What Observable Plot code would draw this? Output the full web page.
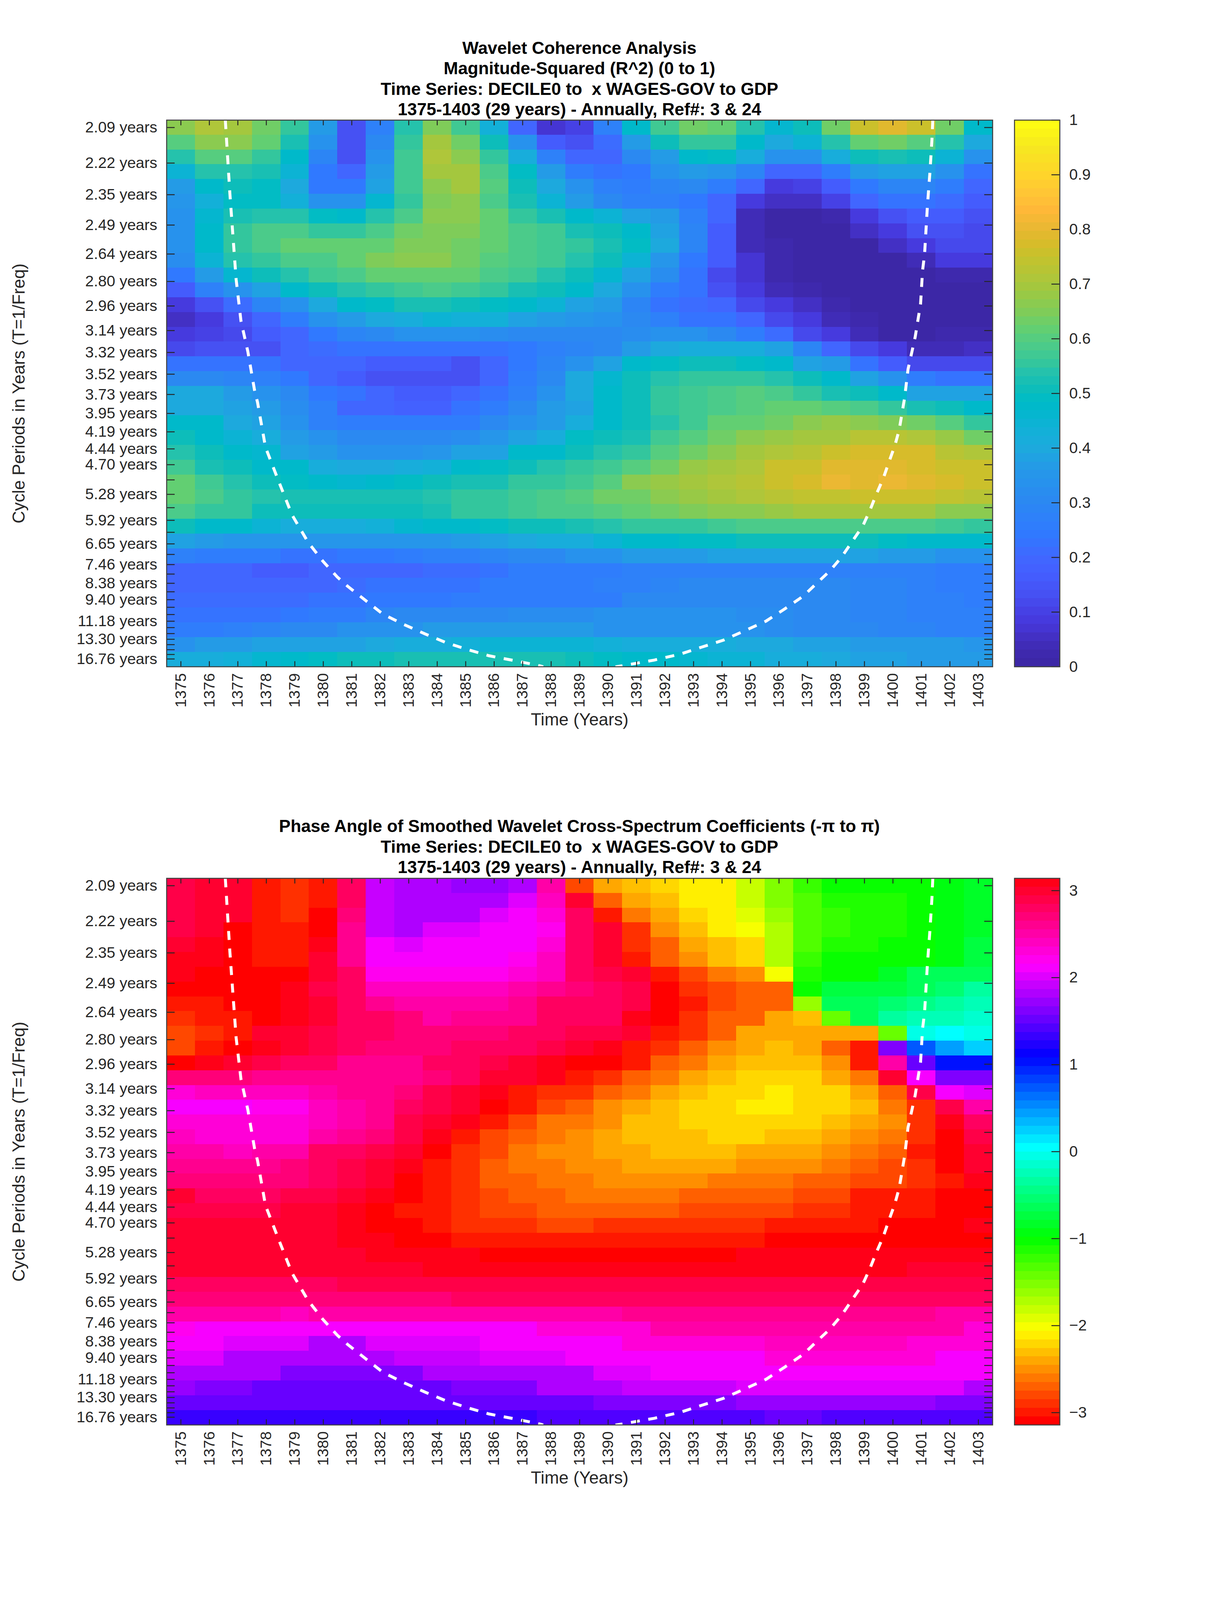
<!DOCTYPE html>
<html>
<head>
<meta charset="utf-8">
<script src="https://cdn.jsdelivr.net/npm/d3@7"></script>
<script src="https://cdn.jsdelivr.net/npm/@observablehq/plot@0.6"></script>
<style>
  html, body { margin: 0; padding: 0; background: #fff; }
  #page { position: relative; width: 3125px; overflow: hidden; font-family: "Liberation Sans", Arial, sans-serif; }
  .title { position: absolute; left: 0; width: 2966px; text-align: center; font-weight: bold; color: #000; white-space: pre; }
  .slot { position: absolute; }
  .slot svg { overflow: visible; display: block; }
</style>
</head>
<body>
<div id="page"></div>
<script>
const years = [1375,1376,1377,1378,1379,1380,1381,1382,1383,1384,1385,1386,1387,1388,1389,1390,1391,1392,1393,1394,1395,1396,1397,1398,1399,1400,1401,1402,1403];
const tickPeriods = [2.09,2.22,2.35,2.49,2.64,2.80,2.96,3.14,3.32,3.52,3.73,3.95,4.19,4.44,4.70,4.98,5.28,5.59,5.92,6.27,6.65,7.04,7.46,7.90,8.38,8.88,9.40,9.96,10.56,11.18,11.85,12.55,13.30,14.09,14.93,15.82,16.76];
const labelPeriods = [2.09,2.22,2.35,2.49,2.64,2.80,2.96,3.14,3.32,3.52,3.73,3.95,4.19,4.44,4.70,5.28,5.92,6.65,7.46,8.38,9.40,11.18,13.30,16.76];
const freqTop = 0.4843, freqBottom = 0.05354;

const coiLeftYear = [1376.56,1376.72,1376.82,1376.94,1377.11,1377.35,1377.59,1377.69,1377.97,1378.44,1378.90,1379.47,1379.99,1380.49,1380.86,1381.52,1382.09,1382.83,1383.58,1384.32,1385.08,1385.82,1386.76,1387.60,1387.72];
const coiLeftPeriod = [2.065,2.345,2.529,2.788,3.068,3.311,3.691,3.816,4.414,5.017,5.770,6.600,7.320,8.045,8.556,9.51,10.52,11.52,12.60,13.80,14.92,16.08,17.19,18.41,18.68];
const coiRightYear = [1401.40,1401.37,1401.30,1401.21,1401.11,1401.04,1400.97,1400.78,1400.53,1400.41,1400.22,1400.07,1399.85,1399.66,1399.41,1399.19,1398.94,1398.59,1398.20,1397.79,1397.33,1396.85,1396.20,1395.54,1394.80,1394.05,1393.29,1392.55,1391.62,1390.49,1390.26];
const coiRightPeriod = [2.065,2.132,2.254,2.401,2.643,2.734,2.946,3.192,3.473,3.767,4.162,4.386,4.667,4.952,5.289,5.658,6.082,6.538,7.140,7.741,8.370,9.160,10.09,11.18,12.20,13.42,14.48,15.72,17.01,18.41,18.68];

const coherence = [
[.66,.71,.69,.64,.55,.36,.14,.27,.54,.65,.57,.43,.20,.07,.10,.27,.48,.57,.64,.62,.54,.46,.51,.64,.75,.79,.75,.64,.48],
[.60,.66,.66,.61,.53,.33,.14,.30,.56,.69,.64,.51,.33,.17,.13,.21,.37,.50,.56,.56,.48,.40,.45,.54,.61,.64,.60,.54,.40],
[.54,.60,.60,.56,.48,.29,.14,.33,.57,.71,.67,.56,.41,.27,.19,.19,.30,.37,.47,.49,.41,.33,.34,.41,.50,.53,.50,.44,.33],
[.45,.54,.54,.53,.44,.24,.19,.36,.57,.69,.69,.59,.49,.36,.26,.22,.24,.33,.36,.35,.29,.19,.19,.26,.36,.39,.39,.33,.22],
[.37,.48,.50,.49,.40,.24,.24,.39,.57,.67,.69,.60,.50,.40,.33,.27,.26,.29,.30,.26,.19,.09,.10,.17,.24,.29,.29,.26,.19],
[.35,.43,.49,.49,.43,.34,.33,.46,.56,.65,.67,.59,.53,.44,.37,.30,.27,.27,.24,.19,.08,.05,.06,.10,.19,.23,.23,.21,.17],
[.34,.46,.53,.54,.54,.49,.47,.54,.59,.67,.67,.62,.56,.52,.47,.44,.38,.36,.27,.19,.04,.01,.01,.03,.08,.13,.17,.17,.13],
[.34,.48,.56,.59,.59,.56,.56,.59,.64,.65,.65,.62,.59,.57,.53,.50,.48,.39,.29,.17,.04,.00,.00,.01,.05,.09,.13,.13,.11],
[.34,.48,.55,.59,.61,.61,.61,.62,.65,.65,.63,.62,.59,.57,.55,.53,.49,.40,.29,.17,.04,.02,.00,.00,.01,.05,.08,.11,.11],
[.32,.44,.54,.56,.59,.59,.62,.65,.66,.66,.63,.60,.59,.57,.54,.50,.44,.35,.24,.17,.07,.02,.00,.00,.00,.01,.04,.09,.09],
[.24,.36,.46,.50,.54,.57,.59,.62,.62,.62,.61,.59,.57,.54,.51,.46,.39,.32,.22,.11,.07,.03,.01,.00,.00,.00,.01,.03,.03],
[.17,.27,.34,.39,.47,.50,.54,.56,.57,.59,.57,.55,.53,.50,.48,.40,.34,.26,.22,.14,.08,.04,.02,.00,.00,.00,.00,.01,.01],
[.08,.13,.21,.29,.34,.40,.47,.49,.52,.52,.51,.49,.48,.44,.39,.36,.29,.23,.21,.19,.11,.08,.06,.02,.00,.00,.00,.00,.00],
[.06,.09,.13,.20,.26,.33,.37,.40,.41,.45,.43,.43,.39,.37,.35,.33,.30,.27,.23,.22,.19,.11,.08,.04,.02,.00,.00,.01,.01],
[.08,.10,.11,.17,.20,.24,.29,.30,.33,.33,.33,.32,.30,.30,.30,.30,.32,.33,.34,.30,.26,.21,.11,.08,.04,.01,.01,.02,.02],
[.11,.13,.13,.14,.20,.21,.22,.22,.22,.22,.22,.23,.24,.27,.29,.30,.37,.40,.41,.41,.41,.38,.29,.20,.11,.08,.04,.04,.05],
[.23,.23,.22,.22,.20,.20,.19,.17,.17,.17,.14,.20,.24,.29,.34,.38,.47,.49,.50,.50,.49,.47,.39,.36,.23,.17,.11,.11,.11],
[.30,.30,.29,.27,.24,.19,.17,.14,.14,.14,.14,.19,.26,.30,.40,.46,.50,.54,.55,.56,.56,.54,.50,.47,.38,.33,.26,.23,.23],
[.40,.40,.36,.34,.30,.24,.22,.19,.17,.17,.19,.22,.27,.33,.40,.48,.51,.55,.57,.58,.60,.58,.56,.53,.50,.47,.39,.39,.38],
[.40,.40,.39,.37,.32,.27,.20,.20,.18,.18,.23,.25,.30,.36,.39,.47,.50,.55,.57,.59,.60,.62,.62,.60,.59,.56,.53,.51,.48],
[.47,.47,.40,.38,.34,.28,.25,.25,.26,.26,.26,.31,.33,.37,.42,.47,.51,.54,.57,.61,.62,.64,.66,.68,.66,.65,.64,.60,.56],
[.50,.48,.45,.42,.36,.33,.31,.30,.31,.31,.32,.35,.38,.42,.49,.51,.52,.57,.60,.63,.66,.68,.69,.70,.72,.72,.71,.68,.64],
[.54,.50,.48,.46,.38,.36,.34,.33,.34,.35,.38,.39,.47,.48,.51,.54,.56,.60,.64,.67,.69,.71,.73,.75,.77,.77,.77,.73,.71],
[.57,.52,.51,.48,.47,.41,.40,.40,.41,.43,.47,.49,.51,.54,.55,.57,.60,.64,.68,.70,.71,.75,.76,.79,.79,.79,.78,.76,.75],
[.61,.57,.54,.50,.49,.47,.46,.47,.49,.51,.52,.53,.56,.56,.57,.60,.67,.68,.70,.71,.73,.76,.77,.80,.79,.80,.79,.77,.75],
[.61,.58,.55,.54,.52,.52,.52,.52,.53,.54,.55,.56,.57,.59,.60,.63,.64,.67,.68,.69,.71,.72,.74,.74,.76,.76,.76,.74,.73],
[.58,.56,.55,.51,.50,.50,.50,.50,.51,.53,.55,.56,.57,.58,.59,.60,.62,.64,.65,.66,.67,.68,.69,.69,.70,.70,.69,.67,.67],
[.50,.47,.47,.44,.42,.42,.42,.43,.46,.47,.48,.49,.50,.51,.52,.54,.55,.56,.56,.57,.59,.59,.59,.59,.59,.58,.58,.57,.56],
[.38,.36,.35,.35,.35,.35,.35,.35,.35,.35,.36,.39,.40,.42,.42,.44,.48,.48,.49,.49,.50,.50,.50,.50,.50,.49,.48,.48,.47],
[.27,.26,.26,.25,.23,.23,.24,.24,.25,.27,.27,.29,.30,.31,.33,.34,.36,.36,.37,.38,.39,.39,.39,.39,.38,.37,.36,.34,.33],
[.19,.19,.19,.17,.17,.20,.19,.19,.20,.21,.21,.23,.25,.25,.26,.26,.27,.27,.27,.28,.28,.28,.28,.28,.27,.27,.27,.26,.26],
[.19,.19,.19,.19,.20,.20,.21,.22,.22,.23,.23,.25,.25,.26,.26,.27,.27,.29,.31,.31,.31,.31,.30,.30,.29,.29,.27,.26,.25],
[.21,.21,.21,.21,.21,.23,.23,.24,.24,.24,.25,.25,.25,.25,.26,.26,.30,.31,.31,.31,.31,.31,.31,.30,.29,.29,.28,.27,.26],
[.23,.23,.23,.23,.24,.25,.26,.29,.30,.30,.31,.31,.32,.32,.32,.33,.33,.33,.33,.33,.32,.32,.31,.30,.29,.29,.28,.27,.27],
[.26,.26,.27,.29,.30,.31,.33,.33,.33,.36,.37,.37,.37,.37,.36,.34,.34,.34,.34,.34,.33,.32,.31,.30,.30,.29,.29,.28,.27],
[.34,.36,.37,.39,.39,.39,.39,.40,.41,.42,.43,.44,.44,.44,.44,.43,.42,.41,.41,.41,.40,.40,.39,.38,.37,.37,.36,.36,.35],
[.42,.42,.43,.46,.47,.49,.50,.50,.52,.52,.52,.52,.52,.52,.50,.49,.48,.47,.46,.45,.44,.42,.41,.40,.39,.38,.37,.37,.36]
];

const phaseAngle = [
[2.88,3.0,3.0,-2.99,-2.9,-2.98,2.82,1.9,1.75,1.75,1.7,1.7,1.83,2.45,-2.82,-2.46,-2.36,-2.26,-2.16,-2.09,-1.86,-1.57,-1.24,-1.05,-1.05,-1.05,-1.05,-.98,-.88],
[2.88,3.0,3.0,-2.99,-2.9,-2.98,2.75,1.9,1.75,1.75,1.83,1.83,1.97,2.36,2.95,-2.75,-2.46,-2.36,-2.16,-2.09,-1.86,-1.57,-1.35,-1.15,-1.15,-1.15,-1.05,-.98,-.85],
[2.88,3.0,3.0,-2.99,-2.9,-3.1,2.65,1.9,1.83,1.83,1.83,1.94,2.09,2.25,2.82,-3.04,-2.65,-2.46,-2.26,-2.16,-1.95,-1.68,-1.35,-1.30,-1.15,-1.15,-1.05,-.98,-.85],
[2.88,3.0,-3.1,-3.0,-3.0,-3.1,2.55,1.9,1.83,1.97,1.97,2.09,2.13,2.2,2.75,3.0,-2.88,-2.56,-2.36,-2.16,-2.06,-1.75,-1.35,-1.30,-1.15,-1.15,-1.05,-.98,-.85],
[2.95,3.04,-3.1,-3.0,-3.0,3.04,2.55,2.09,1.97,2.09,2.09,2.09,2.13,2.25,2.75,2.95,-2.95,-2.75,-2.46,-2.36,-2.2,-1.75,-1.35,-1.15,-1.15,-1.05,-1.05,-.98,-.78],
[3.04,3.04,-3.1,-3.0,-3.0,2.95,2.6,2.13,2.09,2.09,2.09,2.13,2.2,2.36,2.75,2.95,-3.02,-2.75,-2.55,-2.36,-2.2,-1.75,-1.24,-1.05,-1.05,-1.05,-1.05,-.98,-.72],
[3.04,-3.1,-3.1,-3.1,-3.1,2.95,2.75,2.2,2.2,2.2,2.2,2.2,2.3,2.36,2.75,2.85,3.0,-3.02,-2.85,-2.65,-2.55,-2.06,-1.15,-1.05,-1.05,-.85,-.68,-.66,-.65],
[-3.1,-3.1,-3.1,-3.1,3.08,2.9,2.75,2.42,2.42,2.42,2.42,2.42,2.5,2.55,2.7,2.8,2.88,-3.1,-2.95,-2.85,-2.75,-2.68,-1.05,-.78,-.78,-.78,-.65,-.52,-.40],
[-3.0,-3.0,-3.1,-3.1,3.08,2.95,2.82,2.55,2.5,2.5,2.5,2.5,2.6,2.75,2.82,2.8,2.85,-3.1,-3.04,-2.85,-2.75,-2.68,-1.68,-.65,-.65,-.58,-.48,-.36,-.30],
[-2.9,-3.0,-3.0,-3.1,3.08,2.95,2.82,2.75,2.65,2.52,2.6,2.6,2.6,2.75,2.82,2.8,3.04,-3.1,-2.95,-2.75,-2.68,-2.46,-2.3,-1.4,-.65,-.36,-.26,-.24,-.16],
[-2.82,-2.9,-3.0,3.0,3.0,2.88,2.82,2.8,2.68,2.68,2.68,2.68,2.75,2.82,2.88,2.9,3.0,-3.05,-2.88,-2.68,-2.46,-2.46,-2.46,-2.46,-2.46,-1.45,-.1,0,-.1],
[-2.82,-2.98,-3.1,3.04,2.98,2.88,2.75,2.65,2.65,2.65,2.75,2.75,2.8,2.9,2.97,3.04,-3.04,-2.95,-2.75,-2.55,-2.46,-2.36,-2.46,-2.68,-3.02,1.64,.68,.38,.21],
[-3.1,3.04,2.95,2.88,2.82,2.75,2.6,2.6,2.6,2.75,2.75,2.88,2.95,3.04,-3.1,-3.1,-2.97,-2.75,-2.65,-2.46,-2.36,-2.36,-2.36,-2.55,-3.02,2.45,1.5,1.05,.98],
[2.68,2.68,2.68,2.55,2.55,2.55,2.55,2.55,2.55,2.72,2.78,2.95,2.98,3.04,-3.0,-2.95,-2.75,-2.65,-2.46,-2.36,-2.26,-2.26,-2.26,-2.46,-2.65,2.95,2.09,1.57,1.57],
[2.25,2.42,2.42,2.4,2.4,2.48,2.55,2.55,2.68,2.88,2.98,3.08,-3.0,-2.9,-2.92,-2.75,-2.65,-2.46,-2.36,-2.26,-2.26,-2.16,-2.26,-2.26,-2.46,-2.75,2.85,2.09,1.97],
[2.09,2.09,2.09,2.2,2.2,2.38,2.5,2.6,2.75,2.85,2.98,-3.1,-3.0,-2.82,-2.75,-2.55,-2.46,-2.36,-2.26,-2.26,-2.16,-2.16,-2.26,-2.26,-2.36,-2.6,-2.95,2.88,2.5],
[2.25,2.25,2.25,2.25,2.25,2.38,2.45,2.55,2.85,2.98,3.04,-3.04,-2.85,-2.65,-2.6,-2.5,-2.36,-2.36,-2.26,-2.26,-2.26,-2.26,-2.26,-2.36,-2.46,-2.55,-2.88,3.04,2.75],
[2.36,2.25,2.25,2.32,2.32,2.5,2.55,2.72,2.88,3.08,-3.0,-2.82,-2.72,-2.6,-2.55,-2.46,-2.36,-2.36,-2.36,-2.26,-2.26,-2.36,-2.36,-2.46,-2.55,-2.65,-2.88,-3.1,2.88],
[2.45,2.45,2.38,2.45,2.45,2.75,2.78,2.88,3.0,-3.1,-2.95,-2.85,-2.65,-2.55,-2.52,-2.46,-2.46,-2.36,-2.36,-2.36,-2.46,-2.46,-2.46,-2.55,-2.65,-2.75,-2.97,-3.1,3.0],
[2.55,2.55,2.55,2.55,2.65,2.75,2.85,2.95,3.08,-3.04,-2.95,-2.75,-2.6,-2.6,-2.55,-2.55,-2.46,-2.46,-2.46,-2.46,-2.55,-2.55,-2.55,-2.58,-2.75,-2.85,-2.95,-3.08,3.0],
[2.65,2.65,2.65,2.65,2.65,2.75,2.85,2.95,-3.1,-3.05,-2.95,-2.75,-2.72,-2.6,-2.6,-2.55,-2.55,-2.55,-2.55,-2.6,-2.6,-2.6,-2.72,-2.72,-2.85,-2.85,-2.95,-3.05,3.04],
[2.95,2.75,2.75,2.75,2.88,2.88,2.95,3.08,-3.1,-3.05,-2.95,-2.82,-2.72,-2.68,-2.62,-2.62,-2.62,-2.62,-2.72,-2.72,-2.72,-2.72,-2.82,-2.82,-2.97,-2.97,-3.02,-3.1,-3.1],
[2.92,2.92,2.92,2.92,3.0,3.0,3.04,-3.1,-3.02,-3.02,-2.95,-2.82,-2.82,-2.72,-2.72,-2.72,-2.72,-2.72,-2.82,-2.82,-2.82,-2.82,-2.95,-2.95,-3.04,-3.04,-3.04,-3.1,-3.1],
[2.95,2.95,2.95,2.95,3.0,3.0,3.04,-3.1,-3.1,-3.02,-2.95,-2.95,-2.95,-2.85,-2.85,-2.95,-2.95,-2.95,-2.95,-2.95,-2.95,-3.04,-3.04,-3.04,-3.04,-3.1,-3.1,-3.1,3.08],
[2.98,2.98,2.98,2.98,2.98,2.98,3.04,3.08,-3.1,-3.1,-3.02,-3.02,-3.02,-3.02,-3.02,-3.02,-3.02,-3.02,-3.02,-3.02,-3.02,-3.1,-3.1,-3.1,-3.1,-3.1,-3.1,-3.1,-3.1],
[2.95,2.95,2.95,2.95,2.95,3.0,3.0,3.08,3.08,3.08,3.08,-3.12,-3.12,-3.12,-3.12,-3.12,-3.12,-3.12,-3.12,-3.12,3.08,3.08,3.08,3.08,3.08,3.08,3.02,3.02,3.02],
[3.0,2.95,2.95,2.95,2.98,2.98,2.98,2.98,2.98,3.02,3.02,3.02,3.02,3.02,3.02,3.02,3.02,3.02,3.02,3.02,3.02,3.02,3.02,3.02,3.02,3.02,2.95,2.95,2.95],
[2.75,2.75,2.75,2.75,2.75,2.75,2.85,2.85,2.85,2.85,2.85,2.92,2.92,2.92,2.92,2.92,2.92,2.92,2.92,2.92,2.92,2.92,2.92,2.92,2.92,2.85,2.85,2.85,2.85],
[2.65,2.65,2.65,2.65,2.65,2.65,2.65,2.65,2.65,2.65,2.75,2.75,2.75,2.75,2.75,2.75,2.75,2.75,2.75,2.75,2.75,2.75,2.75,2.75,2.75,2.75,2.75,2.75,2.75],
[2.45,2.45,2.45,2.45,2.36,2.45,2.45,2.45,2.45,2.45,2.45,2.52,2.52,2.52,2.52,2.52,2.6,2.6,2.6,2.6,2.6,2.6,2.6,2.6,2.6,2.6,2.6,2.52,2.52],
[2.18,2.12,2.12,2.12,2.12,2.12,2.12,2.12,2.12,2.12,2.13,2.13,2.13,2.3,2.3,2.3,2.3,2.45,2.45,2.45,2.45,2.45,2.45,2.45,2.45,2.45,2.45,2.45,2.25],
[2.09,2.09,1.97,1.97,1.97,1.83,1.83,1.97,1.97,1.97,1.97,2.09,2.09,2.09,2.09,2.09,2.3,2.3,2.3,2.3,2.3,2.42,2.42,2.42,2.42,2.42,2.3,2.3,2.3],
[1.94,1.94,1.83,1.83,1.78,1.78,1.78,1.78,1.87,1.87,1.87,1.97,1.97,1.97,2.07,2.07,2.07,2.13,2.13,2.13,2.13,2.3,2.3,2.3,2.3,2.3,2.3,2.13,2.13],
[1.8,1.8,1.75,1.75,1.64,1.64,1.64,1.64,1.64,1.75,1.75,1.75,1.83,1.83,1.83,1.97,1.97,2.09,2.09,2.09,2.09,2.13,2.13,2.13,2.13,2.13,2.13,2.13,2.13],
[1.7,1.6,1.6,1.54,1.54,1.54,1.54,1.54,1.54,1.54,1.64,1.64,1.64,1.75,1.75,1.75,1.87,1.87,1.87,1.87,1.97,1.97,1.97,1.97,1.97,1.97,1.97,1.97,1.83],
[1.45,1.45,1.45,1.45,1.45,1.45,1.45,1.45,1.45,1.45,1.45,1.5,1.5,1.5,1.5,1.6,1.6,1.6,1.6,1.6,1.72,1.72,1.72,1.72,1.72,1.72,1.72,1.6,1.6],
[1.33,1.33,1.33,1.33,1.33,1.33,1.33,1.33,1.33,1.33,1.33,1.33,1.33,1.42,1.42,1.42,1.42,1.42,1.42,1.42,1.42,1.5,1.5,1.42,1.42,1.42,1.42,1.42,1.42]
];

const coherenceTicks = [0,0.1,0.2,0.3,0.4,0.5,0.6,0.7,0.8,0.9,1];
const phaseTicks = [-3,-2,-1,0,1,2,3];

const coherenceStops = [0,.03,.05,.08,.10,.13,.17,.20,.24,.27,.30,.33,.36,.40,.44,.47,.49,.51,.54,.56,.59,.62,.65,.69,.71,.75,.78,.80,.836,.87,.90,.95,1];
const coherenceColors = ["#3b26a2","#3f2ab0","#422fc0","#4638dc","#4640e4","#4650f2","#445eff","#4068ff","#3078ff","#2e80fa","#2b88f2","#2890ee","#2598e8","#1daadd","#0fb2d6","#00b8cc","#00bcc6","#0fbdb8","#26c2ac","#38c898","#4ecc88","#64cf70","#80cc58","#a0c840","#aec63a","#c5c22c","#dcba2a","#e8b832","#ffb838","#ffc735","#ffd52a","#f6e820","#ffff10"];

// The window can be shorter than the design height of 6252: fit everything by
// scaling the vertical layout and the type; in a full-height window k is 1.
const k = Math.min(1, window.innerHeight / 6252);
const fk = k < 1 ? k * 1.04 : 1;
const LEVELS = 64, PW = 2114, PH = 2136 * k, C = "#262626";
const tickFont = 58 * fk, labelFont = 65 * fk, TL = 21 * k;
const dash = k < 1 ? "23 22" : "32 31";
const page = document.getElementById("page");
page.style.height = 6252 * k + "px";
const coherenceRamp = d3.scaleLinear(coherenceStops, coherenceColors);
const coherenceRange = d3.range(LEVELS).map(i => coherenceRamp((i + .5) / LEVELS));
const phaseRange = d3.range(LEVELS).map(i => d3.hsl(i * 360 / LEVELS, 1, .5).formatHex());
const halfBand = Math.PI / LEVELS;

function slot(el, left, top) {
  const d = document.createElement("div");
  d.className = "slot"; d.style.left = left + "px"; d.style.top = top + "px";
  d.appendChild(el); page.appendChild(d);
}
function addTitle(lines, top) {
  const d = document.createElement("div");
  d.className = "title"; d.style.top = top * k + "px";
  d.style.fontSize = labelFont + "px"; d.style.lineHeight = 80 * k + "px";
  d.textContent = lines.join("\n");
  page.appendChild(d);
}

function heatmap(rows, color, plotTop) {
  const df = (freqTop - freqBottom) / rows.length;
  const cells = rows.flatMap((row, r) => row.map((v, c) => ({
    x1: years[c] - .5, x2: years[c] + .5, y1: freqTop - r * df, y2: freqTop - (r + 1) * df, v
  })));
  const mt = 20, mb = 290 * k;
  const coi = (ys, ps) => ys.map((x, i) => ({x, y: 1 / ps[i]}));
  const chart = Plot.plot({
    width: 3125, height: PH + mt + mb,
    marginLeft: 426, marginRight: 3125 - 426 - PW, marginTop: mt, marginBottom: mb,
    style: {background: "transparent", fontFamily: '"Liberation Sans", Arial, sans-serif', color: C, overflow: "visible"},
    x: {domain: [years[0] - .5, years[years.length - 1] + .5]},
    y: {domain: [freqBottom, freqTop]},
    color,
    marks: [
      Plot.rect(cells, {x1: "x1", x2: "x2", y1: "y1", y2: "y2", fill: "v", shapeRendering: "crispEdges"}),
      Plot.line(coi(coiLeftYear, coiLeftPeriod), {x: "x", y: "y", stroke: "#fff", strokeWidth: 7.5, strokeDasharray: dash, strokeLinecap: "butt", clip: true}),
      Plot.line(coi(coiRightYear, coiRightPeriod), {x: "x", y: "y", stroke: "#fff", strokeWidth: 7.5, strokeDasharray: dash, strokeLinecap: "butt", clip: true}),
      Plot.tickX(years, {x: d => d, insetTop: PH - TL, stroke: C, strokeWidth: 2.4}),
      Plot.tickX(years, {x: d => d, insetBottom: PH - TL, stroke: C, strokeWidth: 2.4}),
      Plot.tickY(tickPeriods, {y: d => 1 / d, insetRight: PW - 21, stroke: C, strokeWidth: 2.4}),
      Plot.tickY(tickPeriods, {y: d => 1 / d, insetLeft: PW - 21, stroke: C, strokeWidth: 2.4}),
      Plot.frame({stroke: "#404040", strokeWidth: 2.6}),
      Plot.axisX({ticks: years, tickFormat: d => String(d), tickRotate: -90, tickSize: 0, tickPadding: 25 * k, fontSize: tickFont, label: null}),
      Plot.axisY({ticks: labelPeriods.map(p => 1 / p), tickFormat: d => (1 / d).toFixed(2) + " years", tickSize: 0, tickPadding: 24, fontSize: tickFont, label: null}),
      Plot.text(["Time (Years)"], {frameAnchor: "bottom", lineAnchor: "middle", dy: 208 * k, fontSize: labelFont, fill: C}),
      Plot.text(["Cycle Periods in Years (T=1/Freq)"], {frameAnchor: "left", textAnchor: "middle", lineAnchor: "middle", dx: -378, rotate: -90, fontSize: labelFont, fill: C})
    ]
  });
  slot(chart, 0, plotTop * k - mt);
}

function colorbar(domain, colorScale, ticks, bandValue, plotTop) {
  const mt = 20, mb = 40, W = 116;
  const s = (domain[1] - domain[0]) / LEVELS;
  const bands = d3.range(LEVELS).map(i => ({lo: domain[0] + i * s, hi: domain[0] + (i + 1) * s, v: bandValue(i)}));
  const chart = Plot.plot({
    width: W + 200, height: PH + mt + mb,
    marginLeft: 0, marginRight: 200, marginTop: mt, marginBottom: mb,
    style: {background: "transparent", fontFamily: '"Liberation Sans", Arial, sans-serif', color: C, overflow: "visible"},
    y: {domain},
    color: colorScale,
    marks: [
      Plot.rectY(bands, {y1: "lo", y2: "hi", fill: "v", shapeRendering: "crispEdges"}),
      Plot.tickY(ticks, {y: d => d, insetLeft: W - 21, stroke: C, strokeWidth: 2.4}),
      Plot.frame({stroke: "#404040", strokeWidth: 2.6}),
      Plot.axisY({anchor: "right", ticks, tickFormat: d => String(d).replace("-", "\u2212"), tickSize: 0, tickPadding: 24, fontSize: tickFont, label: null})
    ]
  });
  slot(chart, 2596, plotTop * k - mt);
}

const coherenceColor = {type: "quantize", domain: [0, 1], range: coherenceRange};
const phaseDomain = [-Math.PI - halfBand / 2, Math.PI - halfBand / 2];
const phaseColor = {type: "quantize", domain: phaseDomain, range: phaseRange};

const line3 = "Time Series: DECILE0 to  x WAGES-GOV to GDP";
const line4 = "1375-1403 (29 years) - Annually, Ref#: 3 & 24";
addTitle(["Wavelet Coherence Analysis", "Magnitude-Squared (R^2) (0 to 1)", line3, line4], 148);
addTitle(["Phase Angle of Smoothed Wavelet Cross-Spectrum Coefficients (-\u03c0 to \u03c0)", line3, line4], 3189);

heatmap(coherence, coherenceColor, 468);
colorbar([0, 1], coherenceColor, coherenceTicks, i => (i + .5) / LEVELS, 468);
heatmap(phaseAngle, phaseColor, 3431);
colorbar([-Math.PI, Math.PI], phaseColor, phaseTicks, i => phaseDomain[0] + (i + .5) * (2 * Math.PI / LEVELS), 3431);
</script>
</body>
</html>
